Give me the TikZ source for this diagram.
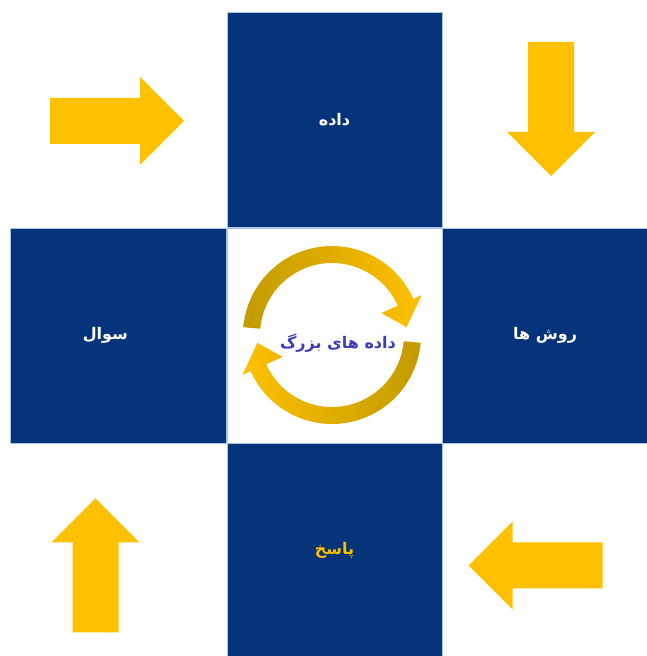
\documentclass[tikz,border=0pt]{standalone}
\usepackage{fontspec}
\newfontfamily\farsi[Script=Arabic]{DejaVu Sans}
\TeXXeTstate=1
\usetikzlibrary{positioning}
\definecolor{navy}{HTML}{04337A}
\definecolor{edge}{HTML}{A9C6E8}
\definecolor{gold}{HTML}{FFC000}
\definecolor{golddk}{HTML}{C29B00}
\definecolor{violet}{HTML}{3D3DB8}
% yellow block arrow: centre, rotation
\newcommand{\fatarrow}[2]{\fill[gold,shift={#1},rotate=#2] (-67,-23) -- (23,-23) -- (23,-44) -- (67,0) -- (23,44) -- (23,23) -- (-67,23) -- cycle;}
\tikzset{
  tile/.style={fill=navy,draw=edge,line width=0.6pt,minimum width=215pt,minimum height=215pt,inner sep=0pt,text=white,font=\farsi\bfseries\fontsize{16}{18}\selectfont},
  hubtext/.style={text=violet,font=\farsi\bfseries\fontsize{16}{18}\selectfont}
}
\begin{document}
\begin{tikzpicture}[x=1pt,y=1pt]
  \useasboundingbox (0,0) rectangle (647,656);
  \node[tile,fill=white] (mid) at (334.5,320.5) {};
  \node[tile,above=0pt of mid] (data) {\beginR داده\endR};
  \node[tile,left=0pt of mid,minimum width=216pt] (ask) {\beginR سوال\endR\rule{26pt}{0pt}};
  \node[tile,right=0pt of mid,minimum width=205pt] (method) {\beginR روش ها\endR};
  \node[tile,below=0pt of mid,minimum height=213pt,text=gold] (answer) {\beginR پاسخ\endR};
  % circular arrows
  \begin{scope}[shift={(332,321)}]
    \foreach \a/\lc/\rc in {0/golddk/gold,180/gold/golddk}
      \shade[left color=\lc,right color=\rc] (175+\a:89) arc[start angle=175+\a,end angle=24+\a,radius=89]
        -- (24+\a:98) -- (6+\a:75) -- (24+\a:54) -- (24+\a:72)
        arc[start angle=24+\a,end angle=175+\a,radius=72] -- cycle;
  \end{scope}
  \node[hubtext] (core) at (338,313) {\beginR داده های بزرگ\endR};
  % corner arrows
  \fatarrow{(117,535)}{0}
  \fatarrow{(551,547)}{-90}
  \fatarrow{(535.5,90.5)}{180}
  \fatarrow{(95.5,90.5)}{90}
\end{tikzpicture}
\end{document}
